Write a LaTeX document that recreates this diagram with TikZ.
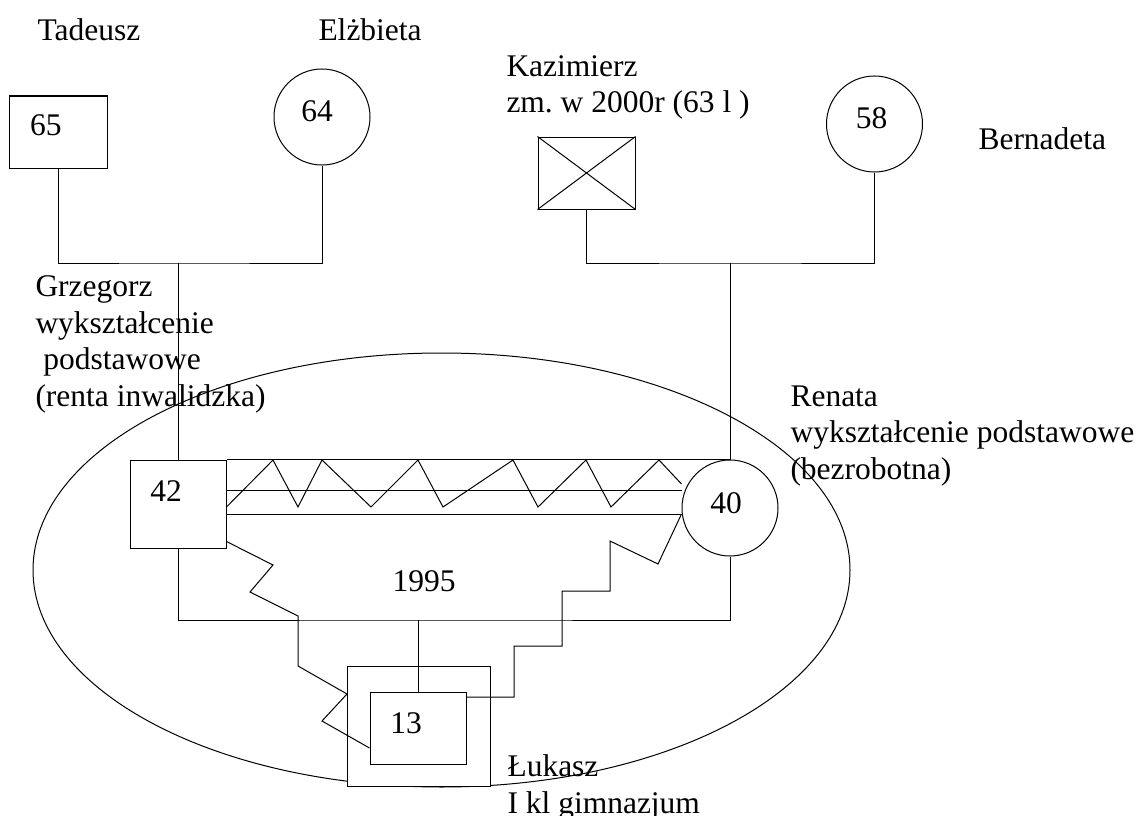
\documentclass[tikz,border=0pt]{standalone}
\usepackage{fontspec}
\setmainfont{Liberation Serif}
\usetikzlibrary{positioning}
\frenchspacing

\tikzset{
    person/.style={draw, line width=1pt, inner sep=0pt},
    male/.style={person, rectangle, minimum width=96pt, minimum height=72pt},
    female/.style={person, circle, minimum size=96pt},
    txt/.style={anchor=base west, align=left, inner sep=0pt},
}

\begin{document}
\begin{tikzpicture}[x=1pt, y={(0pt,-1pt)}, line width=1pt,
    every node/.append style={font=\fontsize{31.5}{36.5}\selectfont}]
    \useasboundingbox (0,0) rectangle (1141,816);

    % grandparents
    \node[male, minimum width=98pt, label={[xshift=-12pt, yshift=7pt]center:65}] (tad) at (58,132) {};
    \node[female, label={[xshift=-5pt, yshift=6pt]center:64}] (ela) at (322,117) {};
    \node[male, minimum width=97pt] (kaz) at (586.5,173) {};
    \draw (kaz.north west) -- (kaz.south east);
    \draw (kaz.north east) -- (kaz.south west);
    \node[female, label={[xshift=-3pt, yshift=6pt]center:58}] (ber) at (874.5,124) {};

    \node[txt] at (37,41) {Tadeusz};
    \node[txt] at (318,41) {Elżbieta};
    \node[txt] at (506,113) {Kazimierz\\zm. w 2000r (63 l )};
    \node[txt] at (978,149) {Bernadeta};

    % household
    \draw (441.5,570) ellipse [x radius=408.5pt, y radius=217pt];

    \node[male, minimum height=88pt, label={[xshift=-12pt, yshift=13pt]center:42}] (grz) at (178,504) {};
    \node[female, label={[xshift=-4pt, yshift=5pt]center:40}] (ren) at (730,508) {};
    \node[person, fill=white, minimum width=143pt, minimum height=120pt] (outer) at (418.5,726) {};
    \node[male, label={[xshift=-12pt, yshift=5pt]center:13}] (luk) at (418,728) {};

    \node[txt] at (35,406) {Grzegorz\\wykształcenie\\\hspace*{.25em}podstawowe\\(renta inwalidzka)};
    \node[txt] at (790,479) {Renata\\wykształcenie podstawowe\\(bezrobotna)};
    \node[txt] at (392,591) {1995};
    \node[txt] at (507,813) {Łukasz\\I kl gimnazjum};

    % lines of descent
    \coordinate (j1) at (178,263);
    \coordinate (j2) at (730,263);
    \coordinate (j3) at (418,620);
    \draw (tad.south) |- (j1) -| (ela.south);
    \draw (j1) -- (grz.north);
    \draw (kaz.south) |- (j2) -| (ber.south);
    \draw (j2) -- (ren.north);
    \draw (grz.south) |- (j3) -| (ren.south);
    \draw (j3) -- (luk.north);

    % relations between spouses
    \draw (grz.north east) -- (ren.north);
    \draw ([yshift=14pt]grz.east) -- ([yshift=18pt]ren.west);
    \draw ([yshift=-10pt]grz.east) -- ([yshift=-6pt]ren.west);
    \draw ([yshift=-3pt]grz.east) -- (273,460) -- (298,507) -- (322,460) -- (371,507)
        -- (418,460) -- (443,507) -- (513,460) -- (538,507) -- (586,460) -- (611,507)
        -- (659,460) -- ([yshift=24pt]ren.west);

    % relations with the child
    \draw ([yshift=7pt]grz.south east) -- (273,565) -- (250,592) -- (298,616) -- (298,666)
        -- (347,694) -- (322,721) -- ([yshift=-20pt]luk.west);
    \draw ([yshift=31pt]luk.east) -- (514,697) -- (514,646) -- (562,646) -- (562,591)
        -- (610,591) -- (610,541) -- (658,564) -- ([yshift=-6pt]ren.west);
\end{tikzpicture}
\end{document}
